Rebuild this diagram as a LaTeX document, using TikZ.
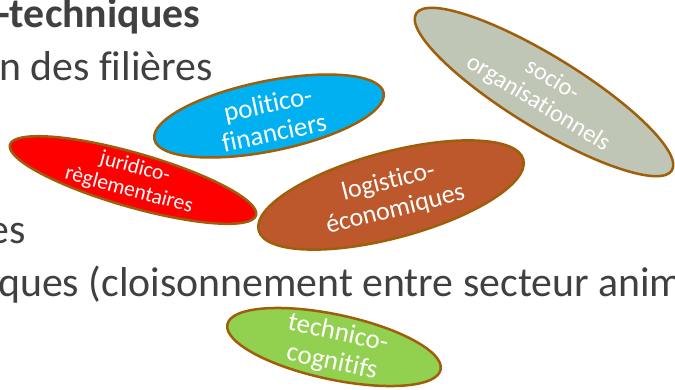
\documentclass[tikz,border=0pt]{standalone}
\usepackage{fontspec}
\setmainfont{Carlito}[Ligatures=NoCommon]
\usetikzlibrary{shapes.geometric}
\definecolor{txtgray}{RGB}{64,64,64}
\definecolor{rim}{RGB}{158,94,10}
\definecolor{cblue}{RGB}{0,176,240}
\definecolor{cred}{RGB}{255,0,0}
\definecolor{cbrown}{RGB}{188,88,44}
\definecolor{cgreen}{RGB}{146,208,80}
\definecolor{cgray}{RGB}{192,198,182}

\begin{document}
\begin{tikzpicture}[x=1pt,y=-1pt,
  ell/.style={ellipse,draw=rim,line width=2.5pt,inner sep=0pt},
  lab/.style={text=white,align=center,inner sep=0pt},
  bg/.style={text=txtgray,inner sep=0pt,font=\fontsize{41.8}{50}\selectfont}]
\useasboundingbox (0,0) rectangle (675,389);
\clip (0,0) rectangle (675,389);

% texte du fond
\node[bg,anchor=base west,font=\fontsize{41.8}{50}\selectfont\bfseries] (t1) at (-3,27) {-techniques};
\node[bg,anchor=base west] (t2) at (-1,80) {n des filières};
\node[bg,anchor=base east] (t3) at (26,243) {es};
\node[bg,anchor=base west] (t4) at (-2,296) {ques (cloisonnement entre secteur animal};

% ellipses
\node[ell,fill=cgray,minimum width=300pt,minimum height=72pt,rotate=-31.5] (socio) at (544,92) {};
\node[ell,fill=cblue,minimum width=234pt,minimum height=70pt,rotate=11.5] (polit) at (269,116) {};
\node[ell,fill=cred,minimum width=256pt,minimum height=54pt,rotate=-16] (jurid) at (133,180) {};
\node[ell,fill=cbrown,minimum width=274pt,minimum height=86pt,rotate=15] (logis) at (391,195) {};
\node[ell,fill=cgreen,minimum width=218pt,minimum height=65pt,rotate=-12] (techn) at (334,347) {};

% textes des ellipses
\node[lab,rotate=-31.5,font=\fontsize{24.5}{27}\selectfont] (socioT) at (545,92) {socio-\\organisationnels};
\node[lab,rotate=12,font=\fontsize{27}{29.5}\selectfont] (politT) at (271,118) {politico-\\financiers};
\node[lab,rotate=-15,font=\fontsize{21.5}{23.5}\selectfont] (juridT) at (132,179) {juridico-\\règlementaires};
\node[lab,rotate=14,font=\fontsize{26}{28.5}\selectfont] (logisT) at (392,196) {logistico-\\économiques};
\node[lab,rotate=-12,font=\fontsize{27}{29.5}\selectfont] (technT) at (335,348) {technico-\\cognitifs};
\end{tikzpicture}
\end{document}
